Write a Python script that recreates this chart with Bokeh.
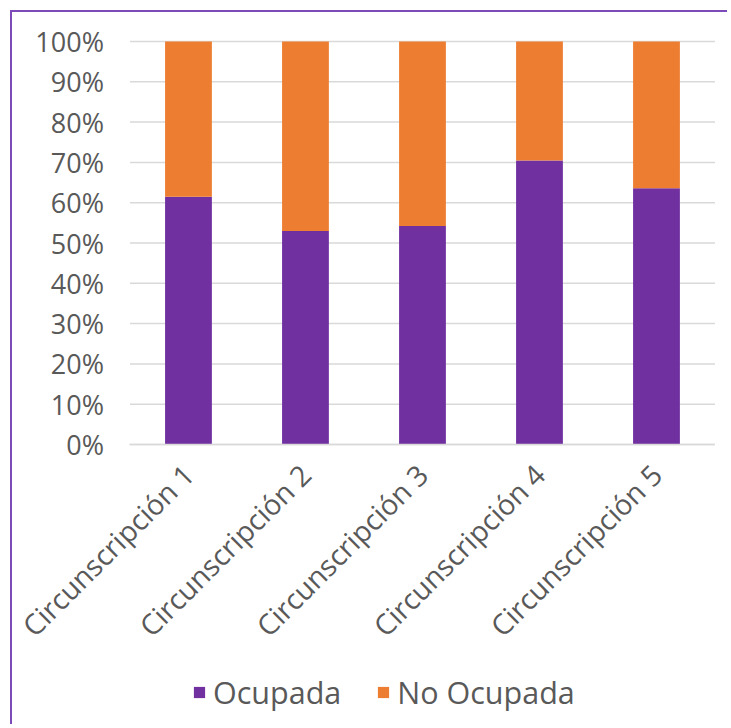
from bokeh.plotting import figure
from bokeh.models import (ColumnDataSource, Range1d, NumeralTickFormatter,
                          Legend, LegendItem, FixedTicker, LinearAxis)
from bokeh.embed import file_html
from bokeh.resources import INLINE
import math

categories = ["Circunscripción 1", "Circunscripción 2", "Circunscripción 3",
              "Circunscripción 4", "Circunscripción 5"]
ocupada = [0.615, 0.530, 0.542, 0.705, 0.636]
no_ocupada = [0.385, 0.470, 0.458, 0.295, 0.364]
y_ticks = [0, 0.1, 0.2, 0.3, 0.4, 0.5, 0.6, 0.7, 0.8, 0.9, 1.0]

PURPLE = "#7030A0"
ORANGE = "#ED7D31"
GREY_TEXT = "#595959"
GRID = "#D9D9D9"
FONT = "Open Sans"

idx = list(range(len(categories)))
left_edge = -0.5
right_edge = len(categories) - 0.5

src = ColumnDataSource(dict(x=idx, cat=categories, ocupada=ocupada, no_ocupada=no_ocupada))

p = figure(width=717, height=714, x_range=Range1d(-1.504, 4.624),
           y_range=Range1d(-0.6998, 1.0720), output_backend="svg", toolbar_location=None,
           x_axis_location=None, y_axis_location=None,
           min_border_left=0, min_border_right=0, min_border_top=0, min_border_bottom=0)
p.outline_line_color = None
p.background_fill_color = "white"
p.border_fill_color = "white"
p.grid.visible = False
p.styles = {"margin-left": "10px", "margin-top": "10px",
            "border-left": "2px solid #7D4BB8", "border-top": "2px solid #7D4BB8"}

# horizontal gridlines at the y ticks, spanning the category bands
p.segment(x0=[left_edge] * len(y_ticks), x1=[right_edge] * len(y_ticks),
          y0=y_ticks, y1=y_ticks, line_color=GRID, line_width=1.5)

rs = p.vbar_stack(["ocupada", "no_ocupada"], x="x", width=0.4, source=src,
                  color=[PURPLE, ORANGE], line_color=None)

yaxis = LinearAxis(fixed_location=left_edge, ticker=FixedTicker(ticks=y_ticks),
                   formatter=NumeralTickFormatter(format="0%"))
yaxis.axis_line_color = None
yaxis.major_tick_line_color = None
yaxis.minor_tick_line_color = None
yaxis.major_label_standoff = 20
yaxis.major_label_text_font = FONT
yaxis.major_label_text_font_size = "27px"
yaxis.major_label_text_color = GREY_TEXT
p.add_layout(yaxis, "left")

xaxis = LinearAxis(fixed_location=0, ticker=FixedTicker(ticks=idx),
                   major_label_overrides={i: c for i, c in zip(idx, categories)},
                   bounds=(left_edge, right_edge))
xaxis.axis_line_color = GRID
xaxis.axis_line_width = 1.5
xaxis.major_tick_line_color = None
xaxis.minor_tick_line_color = None
xaxis.major_label_orientation = math.pi / 4
xaxis.major_label_standoff = 19
xaxis.major_label_text_font = FONT
xaxis.major_label_text_font_size = "28.5px"
xaxis.major_label_text_color = GREY_TEXT
p.add_layout(xaxis, "below")

legend = Legend(items=[LegendItem(label="Ocupada", renderers=[rs[0]]),
                       LegendItem(label="No Ocupada", renderers=[rs[1]])],
                orientation="horizontal", location=(180, 13),
                label_text_font=FONT, label_text_font_size="30.5px",
                label_text_color=GREY_TEXT, glyph_width=14, glyph_height=14,
                spacing=35, label_standoff=7, padding=0, margin=0,
                border_line_color=None, background_fill_alpha=0)
p.add_layout(legend, "center")

open("out.html", "w").write(file_html(p, INLINE))
